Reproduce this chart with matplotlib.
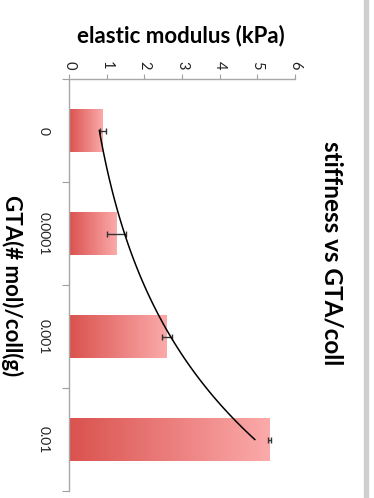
import numpy as np
import matplotlib
matplotlib.use('Agg')
import matplotlib.pyplot as plt
from matplotlib.colors import LinearSegmentedColormap

plt.rcParams['font.family'] = ['Lato', 'DejaVu Sans']

# data (chart is shown rotated 90 deg clockwise)
categories = ['0', '0.0001', '0.001', '0.01']
modulus = [0.90, 1.27, 2.60, 5.31]
modulus_err = [0.08, 0.25, 0.13, 0.04]
value_ticks = [0, 1, 2, 3, 4, 5, 6]

fig = plt.figure(figsize=(3.74, 4.98), dpi=100)
ax = fig.add_axes([69 / 374, 7 / 498, 226 / 374, 412 / 498])

grad = LinearSegmentedColormap.from_list('bar', ['#da524e', '#fbaaaa'])
gimg = np.linspace(0, 1, 256).reshape(1, -1)
ypos = np.arange(len(categories))
bar_h = 0.41

for y, v in zip(ypos, modulus):
    ax.imshow(gimg, cmap=grad, aspect='auto', interpolation='bilinear',
              extent=[0, v, y + bar_h / 2, y - bar_h / 2], zorder=2)

ax.errorbar(modulus, ypos, xerr=modulus_err, fmt='none', ecolor='#333333',
            elinewidth=1.0, capsize=2.5, capthick=1.0, zorder=4)

# exponential trendline fitted to the bar values (Excel style)
xi = ypos + 1
b, ln_a = np.polyfit(xi, np.log(modulus), 1)
t = np.linspace(1, len(categories), 100)
ax.plot(np.exp(ln_a) * np.exp(b * t), t - 1, color='black', lw=1.1, zorder=5)

ax.set_xlim(0, 6)
ax.set_ylim(len(categories) - 0.5, -0.5)

ax.xaxis.tick_top()
ax.set_xticks(value_ticks)
ax.set_xticklabels([str(v) for v in value_ticks], rotation=-90, fontsize=10.5,
                   color='#222222')
ax.tick_params(axis='x', length=3.5, width=0.8, color='#a0a0a0', pad=3.5)

ax.set_yticks(ypos)
ax.set_yticklabels(categories, rotation=-90, fontsize=10, color='#222222',
                   va='center')
ax.set_yticks(np.arange(len(categories) + 1) - 0.5, minor=True)
ax.tick_params(axis='y', which='major', length=0, pad=14)
ax.tick_params(axis='y', which='minor', length=5, width=0.8, color='#a0a0a0')

for s in ['right', 'bottom']:
    ax.spines[s].set_visible(False)
for s in ['top', 'left']:
    ax.spines[s].set_color('#a8a8a8')
    ax.spines[s].set_linewidth(1.0)

fig.text(181 / 374, 1 - 36 / 498, 'elastic modulus (kPa)', ha='center',
         va='center', fontsize=16, fontweight='bold')
fig.text(12 / 374, 1 - 286 / 498, 'GTA(# mol)/coll(g)', ha='center',
         va='center', rotation=-90, fontsize=16, fontweight='bold')
fig.text(332 / 374, 1 - 253 / 498, 'stiffness vs GTA/coll', ha='center',
         va='center', rotation=-90, fontsize=17.5, fontweight='bold')

# grey frame edge on the right
fig.patches.append(plt.Rectangle((364 / 374, 0), 4 / 374, 1,
                                 transform=fig.transFigure,
                                 color='#cfcfcf', zorder=0))

fig.savefig('out.png', dpi=100)
